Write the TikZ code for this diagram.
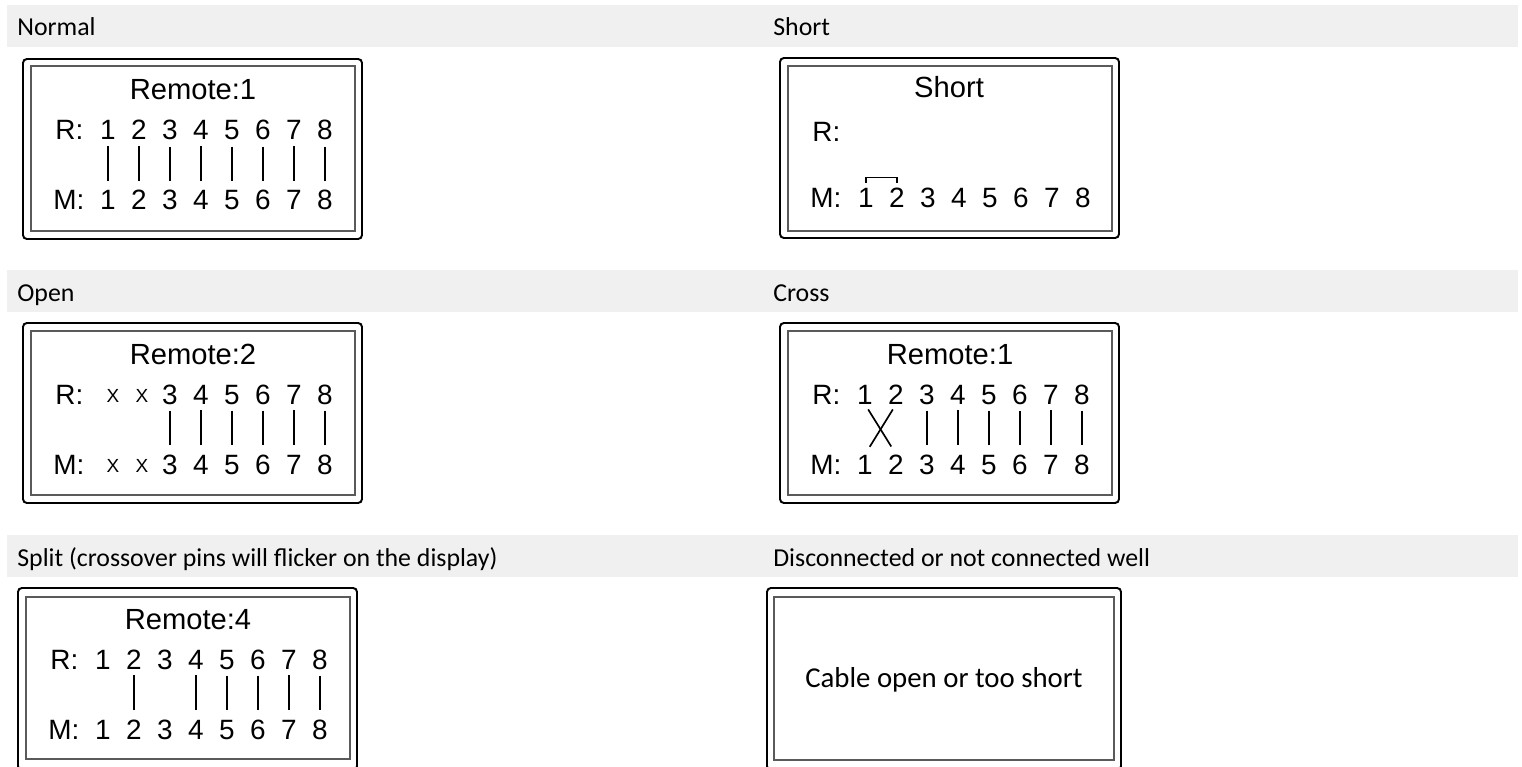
\documentclass[tikz,border=0pt]{standalone}
\usepackage{fontspec}
\setmainfont{Liberation Sans}
\newfontfamily\hdfont{Carlito}
\definecolor{barbg}{HTML}{F0F0F0}
\definecolor{innerc}{HTML}{5A5A5A}
\begin{document}
\begin{tikzpicture}[x=0.02cm,y=-0.02cm,
  bar/.style={fill=barbg,draw=none},
  hdr/.style={anchor=base west,inner sep=0pt,font=\hdfont\fontsize{14.7}{16}\selectfont},
  outerbox/.style={draw=black,line width=1.1pt,rounded corners=2.2pt},
  innerbox/.style={draw=innerc,line width=0.8pt},
  lcd/.style={inner sep=0pt,anchor=base,font=\fontsize{15.9}{18}\selectfont},
  ttl/.style={inner sep=0pt,anchor=base,font=\fontsize{16.6}{18}\selectfont},
  lbl/.style={inner sep=0pt,anchor=base west,font=\fontsize{15.9}{18}\selectfont},
  xmark/.style={inner sep=0pt,anchor=base,font=\fontsize{10.8}{12}\selectfont},
  wire/.style={line width=0.95pt,shorten <=3.4pt,shorten >=5.1pt},
  msg/.style={inner sep=0pt,anchor=base,font=\hdfont\fontsize{16.4}{18}\selectfont}]
\useasboundingbox (0,0) rectangle (1522,767);
\clip (0,0) rectangle (1522,767);

% header bars
\fill[bar] (7,5) rectangle (1518,47);
\fill[bar] (7,270) rectangle (1518,312);
\fill[bar] (7,535) rectangle (1518,577);

\node[hdr] (h1) at (17,36) {Normal};
\node[hdr] (h2) at (773,36) {Short};
\node[hdr] (h3) at (17,301) {Open};
\node[hdr] (h4) at (773,301) {Cross};
\node[hdr] (h5) at (17,566) {Split (crossover pins will flicker on the display)};
\node[hdr] (h6) at (773,566) {Disconnected or not connected well};

% ---------- Normal ----------
\begin{scope}[shift={(23,59)}]
  \draw[outerbox] (0,0) rectangle (339,180);
  \draw[innerbox] (8,7) rectangle (332,172);
  \node[ttl] (aT) at (170,41) {Remote:1};
  \node[lbl] (aR) at (32,81) {R:};
  \node[lbl] (aM) at (30,151) {M:};
  \foreach \i in {1,...,8} {
    \node[lcd] (aR\i) at ({85+31*(\i-1)},81) {\i};
    \node[lcd] (aM\i) at ({85+31*(\i-1)},151) {\i};
    \draw[wire] (aR\i.south) -- (aM\i.north);
  }
\end{scope}

% ---------- Short ----------
\begin{scope}[shift={(780,58)}]
  \draw[outerbox] (0,0) rectangle (339,180);
  \draw[innerbox] (8,8) rectangle (332,173);
  \node[ttl] (bT) at (169,40) {Short};
  \node[lbl] (bR) at (32,84) {R:};
  \node[lbl] (bM) at (30,150) {M:};
  \foreach \i in {1,...,8} {
    \node[lcd] (bM\i) at ({86+31*(\i-1)},150) {\i};
  }
  \draw[line width=0.95pt] ([yshift=3.2pt]bM1.north) |- ([yshift=6.0pt]bM2.north) -- ([yshift=3.2pt]bM2.north);
\end{scope}

% ---------- Open ----------
\begin{scope}[shift={(23,323)}]
  \draw[outerbox] (0,0) rectangle (339,180);
  \draw[innerbox] (8,8) rectangle (332,172);
  \node[ttl] (cT) at (170,41) {Remote:2};
  \node[lbl] (cR) at (32,81) {R:};
  \node[lbl] (cM) at (30,151) {M:};
  \node[xmark] (cR1) at (90,79) {X};
  \node[xmark] (cR2) at (119,79) {X};
  \node[xmark] (cM1) at (90,149) {X};
  \node[xmark] (cM2) at (119,149) {X};
  \foreach \i in {3,...,8} {
    \node[lcd] (cR\i) at ({85+31*(\i-1)},81) {\i};
    \node[lcd] (cM\i) at ({85+31*(\i-1)},151) {\i};
    \draw[wire] (cR\i.south) -- (cM\i.north);
  }
\end{scope}

% ---------- Cross ----------
\begin{scope}[shift={(780,323)}]
  \draw[outerbox] (0,0) rectangle (339,180);
  \draw[innerbox] (8,8) rectangle (332,172);
  \node[ttl] (dT) at (170,41) {Remote:1};
  \node[lbl] (dR) at (32,81) {R:};
  \node[lbl] (dM) at (30,151) {M:};
  \foreach \i in {1,...,8} {
    \node[lcd] (dR\i) at ({85+31*(\i-1)},81) {\i};
    \node[lcd] (dM\i) at ({85+31*(\i-1)},151) {\i};
  }
  \draw[wire] (dR1.south) -- (dM2.north);
  \draw[wire] (dR2.south) -- (dM1.north);
  \foreach \i in {3,...,8} {
    \draw[wire] (dR\i.south) -- (dM\i.north);
  }
\end{scope}

% ---------- Split ----------
\begin{scope}[shift={(18,588)}]
  \draw[outerbox] (0,0) rectangle (339,182);
  \draw[innerbox] (8,9) rectangle (332,171);
  \node[ttl] (eT) at (170,41) {Remote:4};
  \node[lbl] (eR) at (32,81) {R:};
  \node[lbl] (eM) at (30,151) {M:};
  \foreach \i in {1,...,8} {
    \node[lcd] (eR\i) at ({85+31*(\i-1)},81) {\i};
    \node[lcd] (eM\i) at ({85+31*(\i-1)},151) {\i};
  }
  \foreach \i in {2,4,5,6,7,8} {
    \draw[wire] (eR\i.south) -- (eM\i.north);
  }
\end{scope}

% ---------- Disconnected ----------
\begin{scope}[shift={(767,588)}]
  \draw[outerbox] (0,0) rectangle (354,182);
  \draw[innerbox] (7,9) rectangle (347,172);
  \node[msg] (fT) at (177,99) {Cable open or too short};
\end{scope}
\end{tikzpicture}
\end{document}
